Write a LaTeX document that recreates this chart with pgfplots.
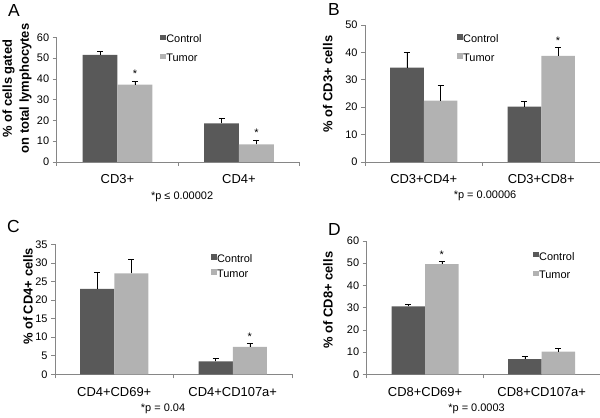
\documentclass[border=0pt]{standalone}
\usepackage{pgfplots}
\pgfplotsset{compat=1.18}
\usepackage{pgfplotstable}
\usepackage{fontspec}
\setmainfont{Liberation Sans}

\definecolor{ctrl}{RGB}{89,89,89}
\definecolor{tum}{RGB}{178,178,178}
\definecolor{axgray}{RGB}{134,134,134}

% xc/xt = bar centres (category at 0.5 and 1.5), values in %, errors upward only
\pgfplotstableread{
xc     xt     ctrl ctrlerr tum  tumerr
0.3565 0.6435 51.5 1.6     37.2 1.8
1.3565 1.6435 18.6 2.6     8.5  2.1
}\dataA
\pgfplotstableread{
xc     xt     ctrl ctrlerr tum  tumerr
0.3565 0.6435 34.4 5.6     22.4 5.7
1.3565 1.6435 20.2 1.8     38.7 3.0
}\dataB
\pgfplotstableread{
xc     xt     ctrl ctrlerr tum  tumerr
0.3565 0.6435 23.0 4.6     27.2 3.8
1.3565 1.6435 3.5  0.8     7.4  0.9
}\dataC
\pgfplotstableread{
xc     xt     ctrl ctrlerr tum  tumerr
0.3565 0.6435 30.6 1.0     49.6 1.1
1.3565 1.6435 6.8  1.3     10.2 1.5
}\dataD

\pgfplotsset{
  panel/.style={
    scale only axis,
    anchor=south west,
    xmin=0, xmax=2, ymin=0,
    axis x line*=bottom, axis y line*=left,
    axis line style={axgray, line width=0.6bp},
    xtick={0,1,2}, xticklabels={,,},
    tick align=outside,
    major tick length=4bp,
    tick style={axgray, line width=0.6bp},
    y tick label style={font=\fontsize{11}{13}\selectfont},
    /pgf/number format/assume math mode=true,
    extra x ticks={0.5,1.5},
    extra x tick style={major tick length=0pt,
      tick label style={font=\fontsize{13}{15}\selectfont, anchor=base, yshift=-22bp}},
    ylabel style={font=\bfseries\fontsize{13}{17}\selectfont, anchor=center, align=center},
    xlabel style={font=\fontsize{11}{13}\selectfont, anchor=center},
    legend style={draw=none, fill=none, font=\fontsize{11}{13}\selectfont,
      anchor=west, inner sep=0pt, row sep=8.8bp,
      nodes={inner sep=0.5bp}},
    legend cell align=left,
    legend image code/.code={\fill[##1,draw=none] (0bp,-0.6bp) rectangle (5.6bp,5bp);},
  },
  errs/.style={error bars/.cd, y dir=plus, y explicit,
    error bar style={black, line width=0.5bp},
    error mark options={rotate=90, black, mark size=3bp, line width=0.5bp}},
  cbar/.style={ybar, bar width=0.287, bar shift=0pt, fill=ctrl, draw=none, errs},
  tbar/.style={ybar, bar width=0.287, bar shift=0pt, fill=tum, draw=none, errs},
}
\newcommand{\sig}[2]{\node[anchor=base, yshift=3bp, inner sep=0pt, font=\fontsize{11}{13}\selectfont] at (axis cs:#1,#2) {*};}

\begin{document}
\begin{tikzpicture}
\useasboundingbox (0,0) rectangle (600bp,418bp);

% A
\begin{axis}[panel, at={(56.7bp,256bp)}, width=243bp, height=124.7bp,
  ymax=60, ytick={0,10,...,60},
  extra x tick labels={CD3+,CD4+},
  ylabel={\% of cells gated\\on total lymphocytes},
  ylabel style={at={(axis description cs:-0.163,0.589)}},
  xlabel={*p ≤ 0.00002},
  xlabel style={at={(axis description cs:0.516,-0.281)}},
  legend style={at={(axis description cs:0.425,0.905)}}]
\addplot[cbar] table[x=xc, y=ctrl, y error=ctrlerr] {\dataA};
\addlegendentry{Control}
\addplot[tbar] table[x=xt, y=tum, y error=tumerr] {\dataA};
\addlegendentry{Tumor}
\sig{0.6435}{39}
\sig{1.6435}{10.6}
\end{axis}

% B
\begin{axis}[panel, at={(365bp,256bp)}, width=235bp, height=137bp,
  ymax=50, ytick={0,10,...,50},
  extra x tick labels={CD3+CD4+,CD3+CD8+},
  ylabel={\% of CD3+ cells},
  ylabel style={at={(axis description cs:-0.158,0.569)}},
  xlabel={*p = 0.00006},
  xlabel style={at={(axis description cs:0.511,-0.248)}},
  legend style={at={(axis description cs:0.391,0.826)}}]
\addplot[cbar] table[x=xc, y=ctrl, y error=ctrlerr] {\dataB};
\addlegendentry{Control}
\addplot[tbar] table[x=xt, y=tum, y error=tumerr] {\dataB};
\addlegendentry{Tumor}
\sig{1.6435}{41.7}
\end{axis}

% C
\begin{axis}[panel, at={(55bp,43.7bp)}, width=237bp, height=130bp,
  ymax=35, ytick={0,5,...,35},
  extra x tick labels={CD4+CD69+,CD4+CD107a+},
  ylabel={\% of CD4+ cells},
  ylabel style={at={(axis description cs:-0.114,0.598)}},
  xlabel={*p = 0.04},
  xlabel style={at={(axis description cs:0.456,-0.267)}},
  legend style={at={(axis description cs:0.657,0.830)}, row sep=4.9bp}]
\addplot[cbar] table[x=xc, y=ctrl, y error=ctrlerr] {\dataC};
\addlegendentry{Control}
\addplot[tbar] table[x=xt, y=tum, y error=tumerr] {\dataC};
\addlegendentry{Tumor}
\sig{1.6435}{8.3}
\end{axis}

% D
\begin{axis}[panel, at={(366.7bp,43.7bp)}, width=233.3bp, height=133.3bp,
  ymax=60, ytick={0,10,...,60},
  extra x tick labels={CD8+CD69+,CD8+CD107a+},
  ylabel={\% of CD8+ cells},
  ylabel style={at={(axis description cs:-0.166,0.557)}},
  xlabel={*p = 0.0003},
  xlabel style={at={(axis description cs:0.471,-0.260)}},
  legend style={at={(axis description cs:0.712,0.811)}}]
\addplot[cbar] table[x=xc, y=ctrl, y error=ctrlerr] {\dataD};
\addlegendentry{Control}
\addplot[tbar] table[x=xt, y=tum, y error=tumerr] {\dataD};
\addlegendentry{Tumor}
\sig{0.6435}{50.7}
\end{axis}

\node[anchor=base west, inner sep=0pt, font=\fontsize{17.5}{20}\selectfont] at (8bp,401.3bp) {A};
\node[anchor=base west, inner sep=0pt, font=\fontsize{17.5}{20}\selectfont] at (328bp,402bp) {B};
\node[anchor=base west, inner sep=0pt, font=\fontsize{17.5}{20}\selectfont] at (7bp,185bp) {C};
\node[anchor=base west, inner sep=0pt, font=\fontsize{17.5}{20}\selectfont] at (328bp,182bp) {D};
\end{tikzpicture}
\end{document}
